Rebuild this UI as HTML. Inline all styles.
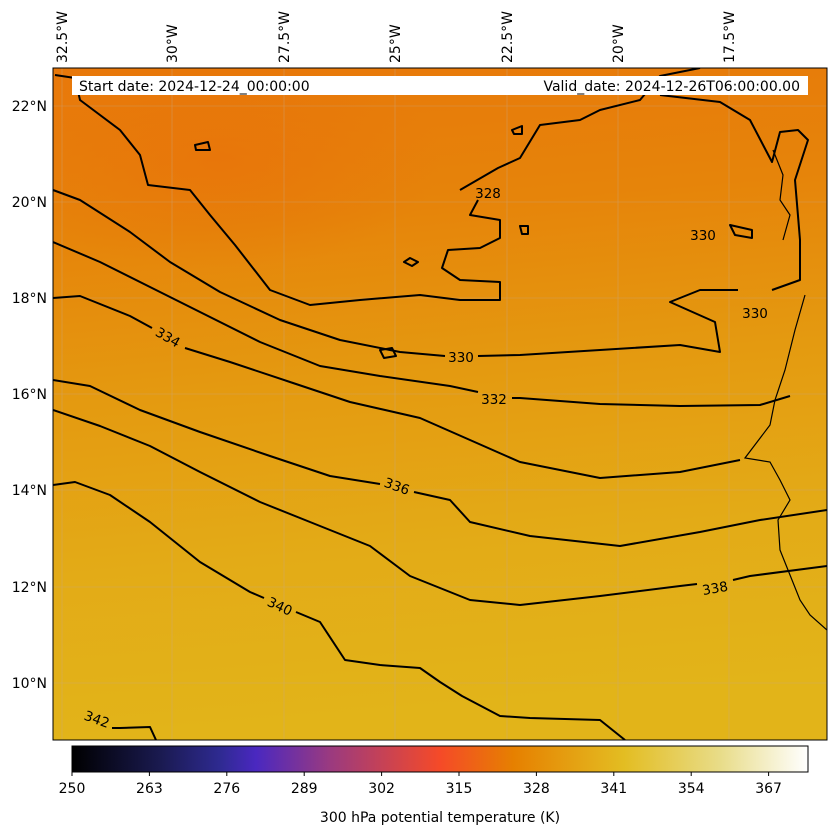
<!DOCTYPE html>
<html><head><meta charset="utf-8"><style>
body{margin:0;background:#fff;}
svg{display:block;font-family:"DejaVu Sans","Liberation Sans",sans-serif;}
</style></head><body>
<svg width="837" height="836" viewBox="0 0 837 836" xmlns="http://www.w3.org/2000/svg">
<defs>
<linearGradient id="bg" x1="0" y1="0" x2="0.1" y2="1">
<stop offset="0" stop-color="#e8780a"/>
<stop offset="0.25" stop-color="#e6840a"/>
<stop offset="0.5" stop-color="#e49a10"/>
<stop offset="0.75" stop-color="#e3ab17"/>
<stop offset="1" stop-color="#e2b419"/>
</linearGradient>
<radialGradient id="dark" cx="0.5" cy="0.5" r="0.5">
<stop offset="0" stop-color="#e8700a" stop-opacity="0.6"/>
<stop offset="1" stop-color="#e8700a" stop-opacity="0"/>
</radialGradient>
<linearGradient id="cb" x1="0" y1="0" x2="1" y2="0">
<stop offset="0" stop-color="#000000"/>
<stop offset="0.12" stop-color="#1a1a50"/>
<stop offset="0.2" stop-color="#2e2a90"/>
<stop offset="0.25" stop-color="#4a28c0"/>
<stop offset="0.35" stop-color="#9a3a80"/>
<stop offset="0.5" stop-color="#f54a28"/>
<stop offset="0.6" stop-color="#e68000"/>
<stop offset="0.75" stop-color="#e3bd22"/>
<stop offset="0.88" stop-color="#e8dc88"/>
<stop offset="1" stop-color="#ffffff"/>
</linearGradient>
<clipPath id="map"><rect x="53" y="68" width="774" height="672"/></clipPath>
</defs>
<rect x="53" y="68" width="774" height="672" fill="url(#bg)"/>
<g clip-path="url(#map)">
<ellipse cx="220" cy="160" rx="220" ry="110" fill="url(#dark)"/>
<g stroke="#c8a888" stroke-width="0.6" opacity="0.6" fill="none">
<path d="M62,68V740M172,68V740M284,68V740M395,68V740M507,68V740M618,68V740M729,68V740"/>
<path d="M53,106H827M53,202H827M53,298H827M53,394H827M53,490H827M53,587H827M53,683H827"/>
</g>
<g stroke="#000" stroke-width="2" fill="none" stroke-linejoin="round">
<path d="M55,75 L75,78 L80,100 L120,130 L140,155 L148,185 L190,190 L210,215 L235,245 L270,290 L310,305 L360,300 L420,295 L460,300 L500,300 L500,282 L460,280 L442,268 L448,250 L480,248 L500,238 L500,220 L470,215 L478,200 M460,190 L498,168 L520,158 L540,125 L580,120 L600,110 L640,100 L660,76 L700,68"/>
<path d="M53,190 L80,200 L130,232 L170,262 L220,292 L280,320 L340,340 L400,352 L445,356 M478,356 L520,355 L600,350 L680,345 L720,352 L715,322 L670,302 L700,290 L738,290 M772,290 L800,280 L800,240 L795,180 L808,140 L798,130 L780,132 L772,162 L750,120 L720,102 L660,95"/>
<path d="M53,242 L100,262 L150,287 L200,312 L260,342 L320,366 L380,376 L450,386 L478,392 M512,398 L520,398 L600,404 L680,406 L760,405 L790,396"/>
<path d="M53,298 L80,296 L130,316 L152,328 M185,348 L230,362 L290,382 L350,402 L420,418 L470,440 L520,462 L600,478 L680,472 L740,460"/>
<path d="M53,380 L90,386 L140,410 L200,432 L270,456 L330,476 L380,484 M414,492 L450,500 L470,522 L530,536 L620,546 L700,532 L760,520 L827,510"/>
<path d="M53,410 L100,426 L150,446 L200,472 L260,502 L310,522 L370,546 L410,576 L470,600 L520,605 L600,596 L680,586 L697,584 M733,580 L750,576 L827,566"/>
<path d="M53,485 L75,482 L110,495 L150,522 L200,562 L250,592 L264,598 M296,612 L320,622 L345,660 L380,665 L420,668 L440,682 L462,696 L500,716 L530,718 L600,720 L625,740"/>
<path d="M112,728 L120,728 L150,727 L156,740"/>
<path d="M195,145 L208,142 L210,150 L196,150Z M410,258 L418,262 L412,266 L404,262Z M520,226 L528,226 L528,234 L522,234Z M730,225 L752,230 L752,238 L735,235Z M380,350 L392,348 L396,356 L384,358Z M512,130 L522,126 L522,134 L514,134Z"/>
</g>
<g stroke="#000" stroke-width="1.2" fill="none">
<path d="M805,295 L795,330 L785,370 L775,400 L770,425 L745,458 L770,462 L780,480 L790,500 L778,520 L780,550 L790,575 L800,600 L810,615 L827,630"/>
<path d="M773,150 L783,175 L780,200 L790,215 L783,240"/>
</g>
</g>
<g font-size="13.5" fill="#000" text-anchor="middle">
<text x="488" y="198">328</text>
<text x="703" y="240">330</text>
<text x="755" y="318">330</text>
<text x="461" y="362">330</text>
<text x="494" y="404">332</text>
<text x="168" y="342" transform="rotate(30 168 337)">334</text>
<text x="397" y="491" transform="rotate(20 397 486)">336</text>
<text x="715" y="593" transform="rotate(-10 715 588)">338</text>
<text x="280" y="611" transform="rotate(25 280 606)">340</text>
<text x="97" y="724" transform="rotate(20 97 719)">342</text>
</g>
<rect x="53" y="68" width="774" height="672" fill="none" stroke="#000" stroke-width="1"/>
<rect x="72" y="76" width="736" height="19" fill="#fff"/>
<text x="79" y="91" font-size="14">Start date: 2024-12-24_00:00:00</text>
<text x="800" y="91" font-size="14" text-anchor="end">Valid_date: 2024-12-26T06:00:00.00</text>
<g font-size="14" fill="#000">
<text transform="translate(67,63) rotate(-90)">32.5°W</text>
<text transform="translate(177,63) rotate(-90)">30°W</text>
<text transform="translate(289,63) rotate(-90)">27.5°W</text>
<text transform="translate(400,63) rotate(-90)">25°W</text>
<text transform="translate(512,63) rotate(-90)">22.5°W</text>
<text transform="translate(623,63) rotate(-90)">20°W</text>
<text transform="translate(734,63) rotate(-90)">17.5°W</text>
</g>
<g font-size="14" text-anchor="end">
<text x="47" y="111">22°N</text><text x="47" y="207">20°N</text><text x="47" y="303">18°N</text>
<text x="47" y="399">16°N</text><text x="47" y="495">14°N</text><text x="47" y="592">12°N</text>
<text x="47" y="688">10°N</text>
</g>
<rect x="72" y="746" width="736" height="26" fill="url(#cb)" stroke="#000" stroke-width="1"/>
<g stroke="#000" stroke-width="1">
<path d="M72,772v4M149.4,772v4M226.8,772v4M304.2,772v4M381.6,772v4M459,772v4M536.4,772v4M613.8,772v4M691.2,772v4M768.6,772v4"/>
</g>
<g font-size="14" text-anchor="middle">
<text x="72" y="793">250</text><text x="149.4" y="793">263</text><text x="226.8" y="793">276</text>
<text x="304.2" y="793">289</text><text x="381.6" y="793">302</text><text x="459" y="793">315</text>
<text x="536.4" y="793">328</text><text x="613.8" y="793">341</text><text x="691.2" y="793">354</text>
<text x="768.6" y="793">367</text>
<text x="440" y="822">300 hPa potential temperature (K)</text>
</g>
</svg>
</body></html>
